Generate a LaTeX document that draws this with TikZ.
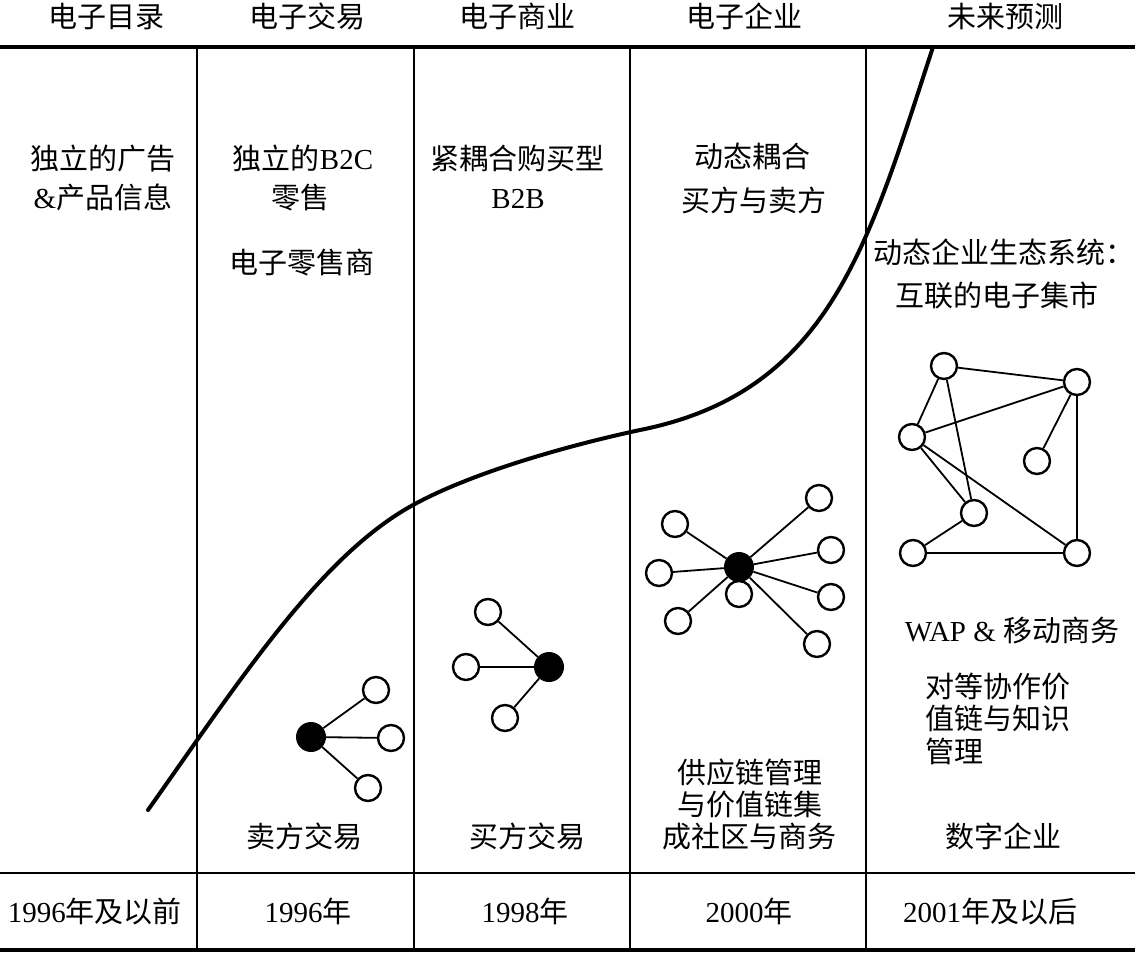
\documentclass[tikz,border=0pt]{standalone}
\usepackage{fontspec}
\setmainfont{Liberation Serif}
\newfontfamily\cjk{Noto Sans CJK SC}
\newcommand\zh[1]{{\cjk #1}}
\newcommand\fs{\fontsize{29}{34}\selectfont}
\begin{document}
\begin{tikzpicture}[x=1pt,y=-1pt,
  txt/.style={font=\fs, inner sep=0pt, anchor=base},
  ltxt/.style={font=\fs, inner sep=0pt, anchor=base west},
  grid/.style={line width=2pt},
  thick rule/.style={line width=4pt},
  sat/.style={circle, draw, fill=white, line width=2.4pt, minimum size=26pt, inner sep=0pt},
  hub/.style={circle, fill=black, minimum size=30pt, inner sep=0pt},
  edge/.style={line width=1.8pt},
  curve/.style={line width=4pt, line cap=round}]
\useasboundingbox (0,0) rectangle (1135,954);
% rules
\draw[thick rule] (0,47) -- (1135,47);
\draw[grid, line width=2.6pt] (0,873) -- (1135,873);
\draw[thick rule] (0,950) -- (1135,950);
\foreach \x in {197,414,630,866} \draw[grid] (\x,47) -- (\x,950);
% headers
\node[txt] (h1) at (106,27) {\zh{电子目录}};
\node[txt] (h2) at (307,27) {\zh{电子交易}};
\node[txt] (h3) at (517,27) {\zh{电子商业}};
\node[txt] (h4) at (744,27) {\zh{电子企业}};
\node[txt] (h5) at (1005,27) {\zh{未来预测}};
% footers
\node[txt] (f1) at (95,922) {1996\zh{年及以前}};
\node[txt] (f2) at (308,922) {1996\zh{年}};
\node[txt] (f3) at (525,922) {1998\zh{年}};
\node[txt] (f4) at (749,922) {2000\zh{年}};
\node[txt] (f5) at (990,922) {2001\zh{年及以后}};
% column texts
\node[txt] (c1a) at (103,169) {\zh{独立的广告}};
\node[txt] (c1b) at (103,208) {\&\zh{产品信息}};
\node[txt] (c2a) at (303,169) {\zh{独立的}B2C};
\node[txt] (c2b) at (300,208) {\zh{零售}};
\node[txt] (c2c) at (302,273) {\zh{电子零售商}};
\node[txt] (c3a) at (517,169) {\zh{紧耦合购买型}};
\node[txt] (c3b) at (518,208) {B2B};
\node[txt] (c4a) at (752,167) {\zh{动态耦合}};
\node[txt] (c4b) at (754,211) {\zh{买方与卖方}};
\node[txt] (c5a) at (1004,263) {\zh{动态企业生态系统：}};
\node[txt] (c5b) at (997,306) {\zh{互联的电子集市}};
\node[txt] (c5c) at (1012,641) {WAP \& \zh{移动商务}};
\node[ltxt] (c5d) at (925,697) {\zh{对等协作价}};
\node[ltxt] (c5e) at (925,729) {\zh{值链与知识}};
\node[ltxt] (c5f) at (925,762) {\zh{管理}};
\node[txt] (c5g) at (1003,847) {\zh{数字企业}};
\node[txt] (c2d) at (304,847) {\zh{卖方交易}};
\node[txt] (c3d) at (527,847) {\zh{买方交易}};
\node[txt] (c4c) at (750,783) {\zh{供应链管理}};
\node[txt] (c4d) at (750,815) {\zh{与价值链集}};
\node[txt] (c4e) at (749,847) {\zh{成社区与商务}};
% curve
\draw[curve] (148,810) .. controls (240,680) and (320,556) .. (413,505)
  .. controls (473,472) and (570,445) .. (640,430)
  .. controls (830,392) and (868,245) .. (933,47);
% graph 1
\node[hub] (g1h) at (311,737) {};
\node[sat] (g1a) at (376,690) {};
\node[sat] (g1b) at (391,738) {};
\node[sat] (g1c) at (368,788) {};
\foreach \n in {g1a,g1b,g1c} \draw[edge] (g1h) -- (\n);
% graph 2
\node[hub] (g2h) at (549,667) {};
\node[sat] (g2a) at (488,612) {};
\node[sat] (g2b) at (466,667) {};
\node[sat] (g2c) at (505,718) {};
\foreach \n in {g2a,g2b,g2c} \draw[edge] (g2h) -- (\n);
% graph 3
\node[hub] (g3h) at (739,567) {};
\node[sat] (g3a) at (675,524) {};
\node[sat] (g3b) at (659,573) {};
\node[sat] (g3c) at (678,621) {};
\node[sat] (g3d) at (819,498) {};
\node[sat] (g3e) at (831,550) {};
\node[sat] (g3f) at (831,597) {};
\node[sat] (g3g) at (817,644) {};
\foreach \n in {g3a,g3b,g3c,g3d,g3e,g3f,g3g} \draw[edge] (g3h) -- (\n);
\node[sat] (g3u) at (739,594) {};
% graph 4
\node[sat] (nA) at (944,366) {};
\node[sat] (nB) at (1077,382) {};
\node[sat] (nC) at (912,437) {};
\node[sat] (nD) at (1037,461) {};
\node[sat] (nE) at (974,513) {};
\node[sat] (nF) at (913,553) {};
\node[sat] (nG) at (1077,553) {};
\foreach \a/\b in {nA/nB,nA/nC,nA/nE,nC/nB,nB/nD,nB/nG,nC/nE,nC/nG,nE/nF,nF/nG} \draw[edge] (\a) -- (\b);
\end{tikzpicture}
\end{document}
